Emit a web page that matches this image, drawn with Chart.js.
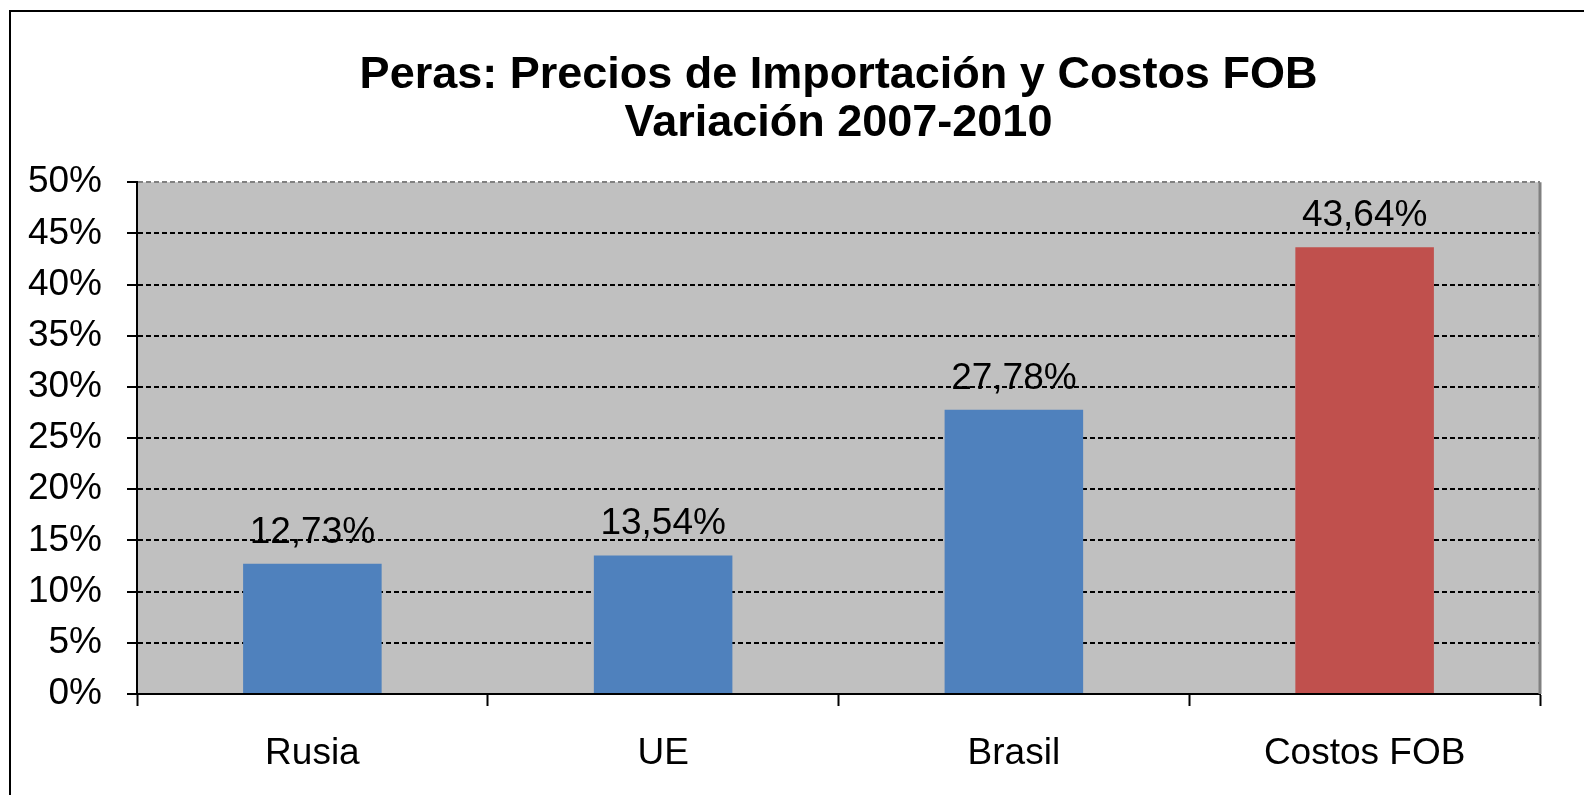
<!DOCTYPE html>
<html>
<head>
<meta charset="utf-8">
<script src="https://cdn.jsdelivr.net/npm/chart.js@4/dist/chart.umd.min.js"></script>
<style>
    html, body { margin: 0; padding: 0; background: #ffffff; }
    canvas { display: block; }
</style>
</head>
<body>
<canvas id="diagramm" width="1584" height="795"></canvas>
<script>
// Andmed: kategooriad ja muutus protsentides
const kategooriad = ['Rusia', 'UE', 'Brasil', 'Costos FOB'];
const muutus = [12.73, 13.54, 27.78, 43.64];
const tulbaVärvid = ['#4F81BD', '#4F81BD', '#4F81BD', '#C0504D'];
const pealkiri = ['Peras: Precios de Importación y Costos FOB', 'Variación 2007-2010'];
const teljeMin = 0;
const teljeMax = 50;
const teljeSamm = 5;

const font = '"Liberation Sans", Arial, sans-serif';

// Hall taust, välimine raam ja parem serv
const taustPlugin = {
    id: 'taust',
    beforeDraw(chart) {
        const { ctx, chartArea } = chart;
        ctx.save();
        ctx.fillStyle = '#C0C0C0';
        ctx.fillRect(chartArea.left, chartArea.top, chartArea.right - chartArea.left, chartArea.bottom - chartArea.top);
        ctx.strokeStyle = '#000000';
        ctx.lineWidth = 2;
        ctx.strokeRect(10, 11, 2000, 2000);
        ctx.restore();
    },
    afterDraw(chart) {
        const { ctx, chartArea } = chart;
        ctx.save();
        ctx.strokeStyle = '#808080';
        ctx.lineWidth = 3;
        ctx.beginPath();
        ctx.moveTo(chartArea.right, chartArea.top);
        ctx.lineTo(chartArea.right, chartArea.bottom);
        ctx.stroke();
        ctx.restore();
    }
};

// Väärtuste sildid tulpade kohal
const siltidePlugin = {
    id: 'sildid',
    afterDatasetsDraw(chart) {
        const { ctx } = chart;
        const meta = chart.getDatasetMeta(0);
        ctx.save();
        ctx.font = '37px ' + font;
        ctx.fillStyle = '#000000';
        ctx.textAlign = 'center';
        ctx.textBaseline = 'alphabetic';
        meta.data.forEach((tulp, i) => {
            const tekst = muutus[i].toFixed(2).replace('.', ',') + '%';
            ctx.fillText(tekst, tulp.x, tulp.y - 21);
        });
        ctx.restore();
    }
};

new Chart(document.getElementById('diagramm').getContext('2d'), {
    type: 'bar',
    data: {
        labels: kategooriad,
        datasets: [{
            data: muutus,
            backgroundColor: tulbaVärvid,
            borderWidth: 0,
            categoryPercentage: 1,
            barPercentage: 0.395
        }]
    },
    options: {
        responsive: false,
        animation: false,
        layout: { padding: { top: 0, right: 44, bottom: 0, left: 0 } },
        plugins: {
            legend: { display: false },
            tooltip: { enabled: false },
            title: {
                display: true,
                text: pealkiri,
                fullSize: false,
                color: '#000000',
                font: { family: font, size: 45, weight: 'bold', lineHeight: 1.08 },
                padding: { top: 51, bottom: 34 }
            }
        },
        scales: {
            x: {
                offset: true,
                afterFit(scale) { scale.height = 101; },
                grid: {
                    offset: true,
                    drawOnChartArea: false,
                    drawTicks: true,
                    tickLength: 12,
                    tickColor: '#000000',
                    tickWidth: 2
                },
                border: { display: true, color: '#000000', width: 2 },
                ticks: {
                    color: '#000000',
                    font: { family: font, size: 37 },
                    padding: 26,
                    maxRotation: 0
                }
            },
            y: {
                min: teljeMin,
                max: teljeMax,
                afterFit(scale) { scale.width = 137; },
                grid: {
                    color: (c) => (c.tick && c.tick.value === teljeMax ? '#808080' : '#000000'),
                    lineWidth: 2,
                    drawTicks: true,
                    tickLength: 10,
                    tickColor: '#000000',
                    tickWidth: 2,
                    tickBorderDash: []
                },
                border: { display: true, color: '#000000', width: 2, dash: [5, 3] },
                ticks: {
                    stepSize: teljeSamm,
                    color: '#000000',
                    font: { family: font, size: 37 },
                    padding: 25,
                    callback: (v) => v + '%'
                }
            }
        }
    },
    plugins: [taustPlugin, siltidePlugin]
});
</script>
</body>
</html>
